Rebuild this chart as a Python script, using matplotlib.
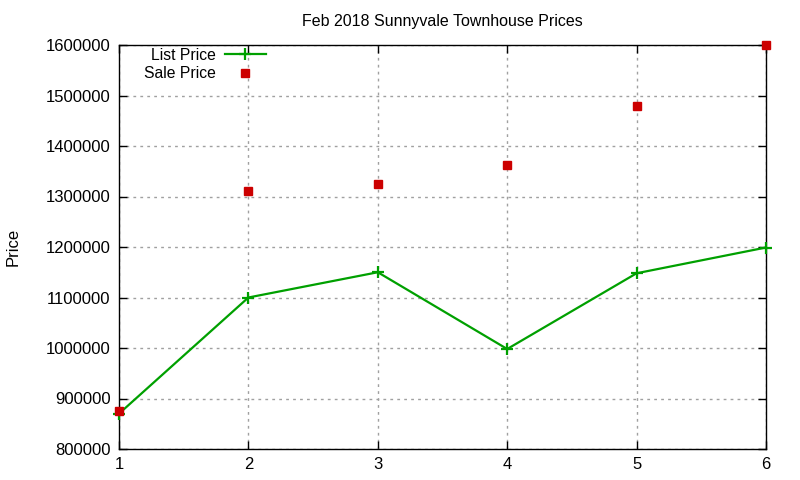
import matplotlib
matplotlib.use("Agg")
import matplotlib.pyplot as plt

# Feb 2018 Sunnyvale townhouse prices
list_x = [1, 2, 3, 4, 5, 6]
list_price = [870000, 1100000, 1150000, 998000, 1148000, 1199000]

sale_x = [1, 2, 3, 4, 5, 6]
sale_price = [875000, 1311000, 1325000, 1362000, 1480000, 1600000]

yticks = [800000, 900000, 1000000, 1100000, 1200000, 1300000, 1400000, 1500000, 1600000]

plt.rcParams['font.family'] = ['Liberation Sans', 'DejaVu Sans']
plt.rcParams['font.size'] = 12

fig = plt.figure(figsize=(8, 4.8), dpi=100)
ax = fig.add_axes([119/800, 1 - 449/480, (766-119)/800, (449-45)/480])

ax.plot(list_x, list_price, color="#00a000", lw=1.6, marker="+", ms=9, mew=1.6,
        label="List Price", clip_on=False, zorder=3)
ax.plot(sale_x, sale_price, ls="none", color="#cc0000", marker="s", ms=6,
        label="Sale Price", clip_on=False, zorder=4)

ax.set_xlim(1, 6)
ax.set_ylim(800000, 1600000)
ax.set_xticks(list_x)
ax.set_yticks(yticks)
ax.set_yticklabels([str(v) for v in yticks])
ax.grid(True, color="#a0a0a0", ls=(0, (2, 3)), lw=1)
ax.tick_params(direction="in", top=True, right=True, length=6, width=1, pad=6)
for s in ax.spines.values():
    s.set_linewidth(1)

ax.set_title("Feb 2018 Sunnyvale Townhouse Prices", fontsize=11.5, pad=14)
ax.set_ylabel("Price", labelpad=18)

ax.legend(loc="upper left", bbox_to_anchor=(0.021, 1.02), frameon=False, markerfirst=False,
          fontsize=11.3, handlelength=2.6, handletextpad=0.6, labelspacing=0.2,
          borderaxespad=0.3)

fig.savefig("out.png", dpi=100)
